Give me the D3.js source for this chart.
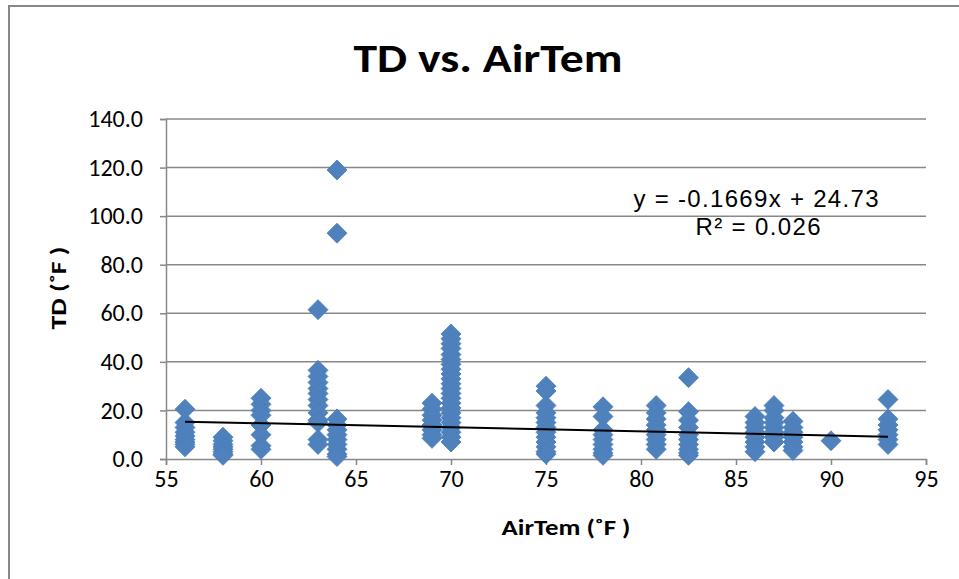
<!DOCTYPE html>
<html>
<head>
<meta charset="utf-8">
<script src="https://cdn.jsdelivr.net/npm/d3@7"></script>
<style>
  html, body { margin: 0; padding: 0; background: #fff; }
  svg { display: block; }
</style>
</head>
<body>
<svg id="chart" width="959" height="579"></svg>
<script>
// ---- Data ----
const airTemps = [56, 58, 60, 63, 64, 69, 70, 75, 78, 80.8, 82.5, 86, 87, 88, 90, 93];
const tdByTemp = [
  [20.5, 15, 13, 11, 9.5, 8, 7, 6, 5],
  [9, 7.5, 6, 5, 4, 3, 2, 1.5],
  [25, 22.5, 20, 18, 14, 10, 5.5, 4],
  [61.5, 36.5, 34, 31.5, 29, 27, 24.5, 22, 19, 16, 15, 8, 6],
  [119, 93, 16.5, 14, 12, 10, 8, 6, 4, 2, 1],
  [23, 20.5, 18, 16, 14, 12, 10, 8.5],
  [51.5, 49.5, 47.5, 45.5, 43, 41, 39, 37, 35, 33, 31, 29, 27, 25, 23, 21, 19, 17, 15, 13, 11, 9, 7],
  [30, 28, 22, 19, 17, 15, 13, 11, 9, 7, 5, 3, 2],
  [21.5, 17.5, 12, 10, 8, 6, 4, 2.5, 1.5],
  [22, 19, 16.5, 14, 12, 10, 8, 6, 4],
  [33.5, 19.5, 16, 13, 10, 8, 6, 4, 2.5, 1.5],
  [17.5, 15, 13, 11, 9, 7, 5, 3],
  [22, 20, 17, 15, 13, 11, 9, 7],
  [15.5, 13, 11, 9, 7, 5, 3.5],
  [7.5],
  [24.5, 16.5, 14, 12, 10, 8, 6]
];
const xTicks = [55, 60, 65, 70, 75, 80, 85, 90, 95];
const yTicks = [0, 20, 40, 60, 80, 100, 120, 140];
const trendSlope = -0.1669;
const trendIntercept = 24.73;
const titleText = "TD vs. AirTem";
const xLabelText = "AirTem (\u02DAF )";
const yLabelText = "TD (\u02DAF )";
const equationText = "y = -0.1669x + 24.73";
const r2Text = "R\u00B2 = 0.026";

// ---- Layout ----
const svg = d3.select("#chart");
const plot = { left: 166, right: 926, top: 119, bottom: 459 };
const x = d3.scaleLinear().domain([55, 95]).range([plot.left, plot.right]);
const y = d3.scaleLinear().domain([0, 140]).range([plot.bottom, plot.top]);
const gridColor = "#888888";
const tickFont = "Carlito, 'Open Sans', sans-serif";

// chart border (cropped at right/bottom)
svg.append("rect")
  .attr("x", 9).attr("y", 6)
  .attr("width", 1200).attr("height", 1200)
  .attr("fill", "none").attr("stroke", "#878787").attr("stroke-width", 2);

// horizontal gridlines
svg.append("g").selectAll("line").data(yTicks.filter(d => d > 0)).join("line")
  .attr("x1", plot.left).attr("x2", plot.right)
  .attr("y1", d => y(d)).attr("y2", d => y(d))
  .attr("stroke", gridColor).attr("stroke-width", 1.5);

// Y axis
const yAxis = d3.axisLeft(y).tickValues(yTicks).tickSize(6).tickPadding(17)
  .tickFormat(d3.format(".1f"));
const gy = svg.append("g").attr("transform", `translate(${plot.left},0)`).call(yAxis);
gy.select(".domain").attr("stroke", gridColor).attr("stroke-width", 1.5);
gy.selectAll(".tick line").attr("stroke", gridColor).attr("stroke-width", 1.5);
gy.selectAll(".tick text").attr("font-family", tickFont).attr("font-size", 24)
  .attr("fill", "#000");

// X axis
const xAxis = d3.axisBottom(x).tickValues(xTicks).tickSize(6).tickPadding(5)
  .tickFormat(d3.format("d"));
const gx = svg.append("g").attr("transform", `translate(0,${plot.bottom})`).call(xAxis);
gx.select(".domain").attr("stroke", gridColor).attr("stroke-width", 1.5);
gx.selectAll(".tick line").attr("stroke", gridColor).attr("stroke-width", 1.5);
gx.selectAll(".tick text").attr("font-family", tickFont).attr("font-size", 24)
  .attr("fill", "#000");

// points
const points = [];
airTemps.forEach((t, i) => tdByTemp[i].forEach(v => points.push({ x: t, y: v })));
const diamond = "M0,-10L10,0L0,10L-10,0Z";
svg.append("g").selectAll("path").data(points).join("path")
  .attr("d", diamond)
  .attr("transform", d => `translate(${x(d.x)},${y(d.y)})`)
  .attr("fill", "#4F81BD")
  .attr("stroke", "#4A7EBB").attr("stroke-width", 0.8);

// trendline
const xMin = d3.min(airTemps), xMax = d3.max(airTemps);
svg.append("line")
  .attr("x1", x(xMin)).attr("y1", y(trendSlope * xMin + trendIntercept))
  .attr("x2", x(xMax)).attr("y2", y(trendSlope * xMax + trendIntercept))
  .attr("stroke", "#000").attr("stroke-width", 2);

// equation
svg.append("text").attr("x", 756).attr("y", 207).attr("text-anchor", "middle")
  .attr("font-family", "'Liberation Sans', Arial, sans-serif").attr("font-size", 24)
  .attr("textLength", 245).attr("lengthAdjust", "spacing")
  .text(equationText);
svg.append("text").attr("x", 758).attr("y", 235).attr("text-anchor", "middle")
  .attr("font-family", "'Liberation Sans', Arial, sans-serif").attr("font-size", 24)
  .attr("textLength", 125).attr("lengthAdjust", "spacing")
  .text(r2Text);

// title
svg.append("text").attr("x", 488).attr("y", 72).attr("text-anchor", "middle")
  .attr("font-family", "Carlito, 'Open Sans', sans-serif").attr("font-weight", "bold")
  .attr("font-size", 40)
  .attr("textLength", 269).attr("lengthAdjust", "spacingAndGlyphs")
  .text(titleText);

// axis labels
svg.append("text").attr("x", 566).attr("y", 535).attr("text-anchor", "middle")
  .attr("font-family", "Carlito, 'Open Sans', sans-serif").attr("font-weight", "bold")
  .attr("font-size", 22)
  .attr("textLength", 129).attr("lengthAdjust", "spacingAndGlyphs")
  .text(xLabelText);
svg.append("text")
  .attr("transform", "translate(66,288) rotate(-90)")
  .attr("text-anchor", "middle")
  .attr("font-family", "Carlito, 'Open Sans', sans-serif").attr("font-weight", "bold")
  .attr("font-size", 22)
  .attr("textLength", 83).attr("lengthAdjust", "spacingAndGlyphs")
  .text(yLabelText);
</script>
</body>
</html>
